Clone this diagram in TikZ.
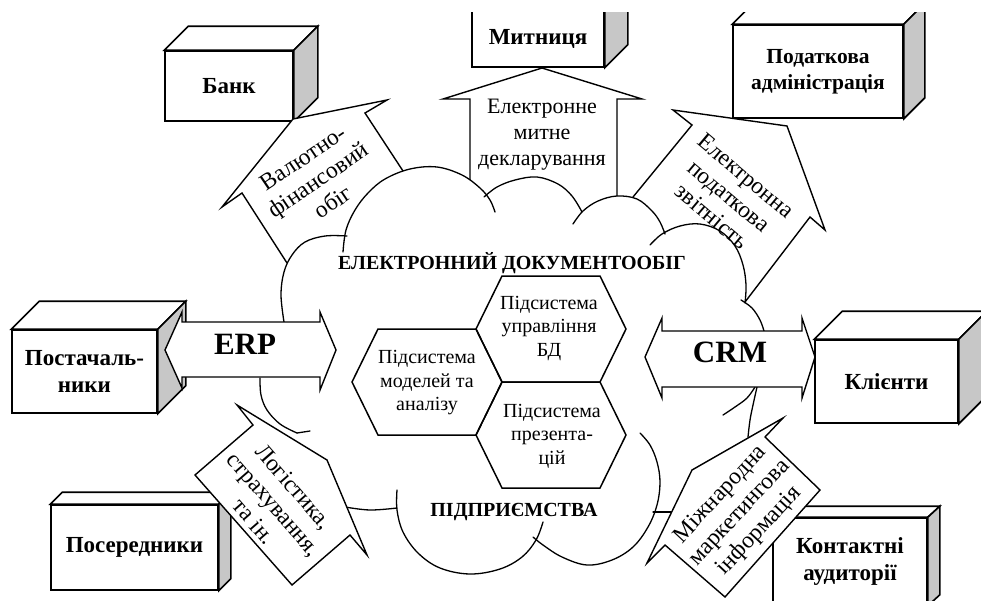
\documentclass[tikz,border=0pt]{standalone}
\usepackage{fontspec}
\setmainfont{Liberation Serif}
\definecolor{sidegray}{gray}{0.78}
\tikzset{
  boxline/.style={line width=1.6pt, line join=miter},
  cubefront/.style={draw, boxline, fill=white, inner sep=0pt, align=center,
    font=\fontsize{23}{27}\bfseries\selectfont},
  arrowline/.style={line width=1.4pt, line join=miter},
  cloudline/.style={line width=1.3pt, line cap=round},
  hexline/.style={line width=1.5pt, line join=miter},
  arrtext/.style={font=\fontsize{22}{26}\selectfont, align=center, inner sep=0pt},
  rottext/.style={font=\fontsize{23.5}{26.5}\selectfont, align=center, inner sep=0pt},
  hextext/.style={font=\fontsize{20}{23.5}\selectfont, align=center, inner sep=0pt},
  titletext/.style={font=\fontsize{20}{22}\bfseries\selectfont, inner sep=0pt},
  bigtext/.style={font=\fontsize{31}{33}\bfseries\selectfont, inner sep=0pt},
}
\newcommand\cubefaces[3]{%
  \draw[boxline, fill=white] (#1.north west) -- ++(#2,#3) -- ([shift={(#2,#3)}]#1.north east) -- (#1.north east) -- cycle;
  \draw[boxline, fill=sidegray] (#1.north east) -- ++(#2,#3) -- ([shift={(#2,#3)}]#1.south east) -- (#1.south east) -- cycle;
}
\begin{document}
\begin{tikzpicture}[x=1pt,y=-1pt]
\useasboundingbox[fill=white] (0,0) rectangle (981,600);
\begin{scope}
\clip (0,12) rectangle (981,600);

% ---------- boxes ----------
\node[cubefront, minimum width=128pt, minimum height=70pt] (bank) at (229,86) {Банк};
\cubefaces{bank}{24}{-24}
\node[cubefront, minimum width=132pt, minimum height=57pt] (customs) at (538,38.5) {Митниця};
\cubefaces{customs}{23}{-23}
\node[cubefront, minimum width=170pt, minimum height=93pt, font=\fontsize{21.5}{26}\bfseries\selectfont] (tax) at (818,71.5) {Податкова\\адміністрація};
\cubefaces{tax}{21}{-21}
\node[cubefront, minimum width=145pt, minimum height=83pt] (supp) at (84.5,371.5) {Постачаль-\\ники};
\cubefaces{supp}{28}{-28}
\node[cubefront, minimum width=143pt, minimum height=83pt] (clients) at (886.5,381.5) {Клієнти};
\cubefaces{clients}{28}{-28}
\node[cubefront, minimum width=167pt, minimum height=85pt] (interm) at (134.5,547.5) {Посередники};
\cubefaces{interm}{12}{-12}
\node[cubefront, minimum width=154pt, minimum height=87pt] (contact) at (850,561.5) {Контактні\\аудиторії};
\cubefaces{contact}{12}{-11}

% ---------- outward arrows (open at the cloud) ----------
\fill[white] (287,263) -- (242,193) -- (222,207) -- (293,119) -- (387,100) -- (365,113) -- (403,171) -- cycle;
\draw[arrowline] (287,263) -- (242,193) -- (222,207) -- (293,119) -- (387,100) -- (365,113) -- (403,171);
\node[rottext, rotate=34] (tbank) at (318,180) {Валютно-\\фінансовий\\обіг};

\fill[white] (470,180) -- (470,99) -- (443,99) -- (542,68) -- (642,99) -- (617,99) -- (617,196) -- cycle;
\draw[arrowline] (470,180) -- (470,99) -- (443,99) -- (542,68) -- (642,99) -- (617,99) -- (617,196);
\node[arrtext] (tcustoms) at (542,135) {Електронне\\митне\\декларування};

\fill[white] (633,197) -- (692,125) -- (673,110) -- (787,126) -- (825,230) -- (810,217) -- (745,302) -- cycle;
\draw[arrowline] (633,197) -- (692,125) -- (673,110) -- (787,126) -- (825,230) -- (810,217) -- (745,302);
\node[rottext, rotate=-40] (ttax) at (729,196) {Електронна\\податкова\\звітність};

% ---------- cloud ----------
\begin{scope}[cloudline]
\draw plot[smooth, tension=0.6] coordinates {(347,236) (325,236) (305,242) (292,255) (284,272) (281,295) (284,322)};
\draw plot[smooth, tension=0.6] coordinates {(343,252) (346,230) (355,210) (368,193) (385,179) (410,169) (437,167) (462,175) (480,188) (490,200) (495,212)};
\draw plot[smooth, tension=0.6] coordinates {(484,197) (497,187) (515,180) (537,177) (558,184) (572,196) (582,212)};
\draw plot[smooth, tension=0.6] coordinates {(573,224) (583,211) (598,201) (617,196) (637,199) (652,211) (660,222) (665,234)};
\draw plot[smooth, tension=0.6] coordinates {(650,245) (662,234) (680,226) (700,224) (720,231) (735,246) (743,265) (746,285) (745,303)};
\draw plot[smooth, tension=0.6] coordinates {(741,300) (752,308) (760,320) (764,331)};
\draw plot[smooth, tension=0.6] coordinates {(757,387) (753,405) (750,420) (748,437)};
\draw plot[smooth, tension=0.6] coordinates {(723,415) (735,407) (747,398) (755,387)};
\draw plot[smooth, tension=0.6] coordinates {(640,433) (650,445) (657,462) (660,482) (657,505) (648,527) (633,547) (612,560) (587,565) (562,557) (543,545) (533,537)};
\draw (653,512) -- (672,512);
\draw plot[smooth, tension=0.6] coordinates {(543,522) (536,540) (522,557) (500,569) (470,574) (440,568) (418,553) (403,532) (397,510) (397,490)};
\draw plot[smooth, tension=0.6] coordinates {(345,507) (370,510) (397,508)};
\draw plot[smooth, tension=0.6] coordinates {(260,378) (261,395) (267,410) (280,424) (297,433)};
\draw (297,433) -- (310,431);
\end{scope}

% ---------- hexagons ----------
\draw[hexline] (378,329) -- (476,329) -- (502,382) -- (476,435) -- (378,435) -- (352,382) -- cycle;
\draw[hexline] (502,276) -- (600,276) -- (626,329) -- (600,382) -- (502,382) -- (476,329) -- cycle;
\draw[hexline] (502,382) -- (600,382) -- (626,435) -- (600,488) -- (502,488) -- (476,435) -- cycle;
\node[hextext] (h1) at (427,383) {Підсистема\\моделей та\\аналізу};
\node[hextext] (h2) at (549,328) {Підсистема\\управління\\БД};
\node[hextext] (h3) at (552,436) {Підсистема\\презента-\\цій};

\node[titletext] (title1) at (512,263) {ЕЛЕКТРОННИЙ ДОКУМЕНТООБІГ};
\node[titletext] (title2) at (514,512) {ПІДПРИЄМСТВА};

% ---------- arrows on top ----------
\draw[arrowline, fill=white] (165,350) -- (182,312) -- (182,322) -- (320,322) -- (320,312) -- (336,350) -- (320,390) -- (320,377) -- (182,377) -- (182,388) -- cycle;
\node[bigtext] (erp) at (245,344) {ERP};
\draw[arrowline, fill=white] (645,357) -- (662,318) -- (662,331) -- (802,331) -- (802,318) -- (815,357) -- (802,398) -- (802,387) -- (662,387) -- (662,398) -- cycle;
\node[bigtext] (crm) at (730,352) {CRM};

\draw[arrowline, fill=white] (195,475) -- (253,425) -- (237,405) -- (327,460) -- (367,555) -- (350,535) -- (292,585) -- cycle;
\node[rottext, rotate=-49] (tlog) at (274,504) {Логістика,\\страхування,\\та ін.};

\draw[arrowline, fill=white] (820,490) -- (765,437) -- (783,418) -- (692,470) -- (647,563) -- (665,545) -- (725,597) -- cycle;
\node[rottext, rotate=47] (tmark) at (740,513) {Міжнародна\\маркетингова\\інформація};
\end{scope}
\end{tikzpicture}
\end{document}
